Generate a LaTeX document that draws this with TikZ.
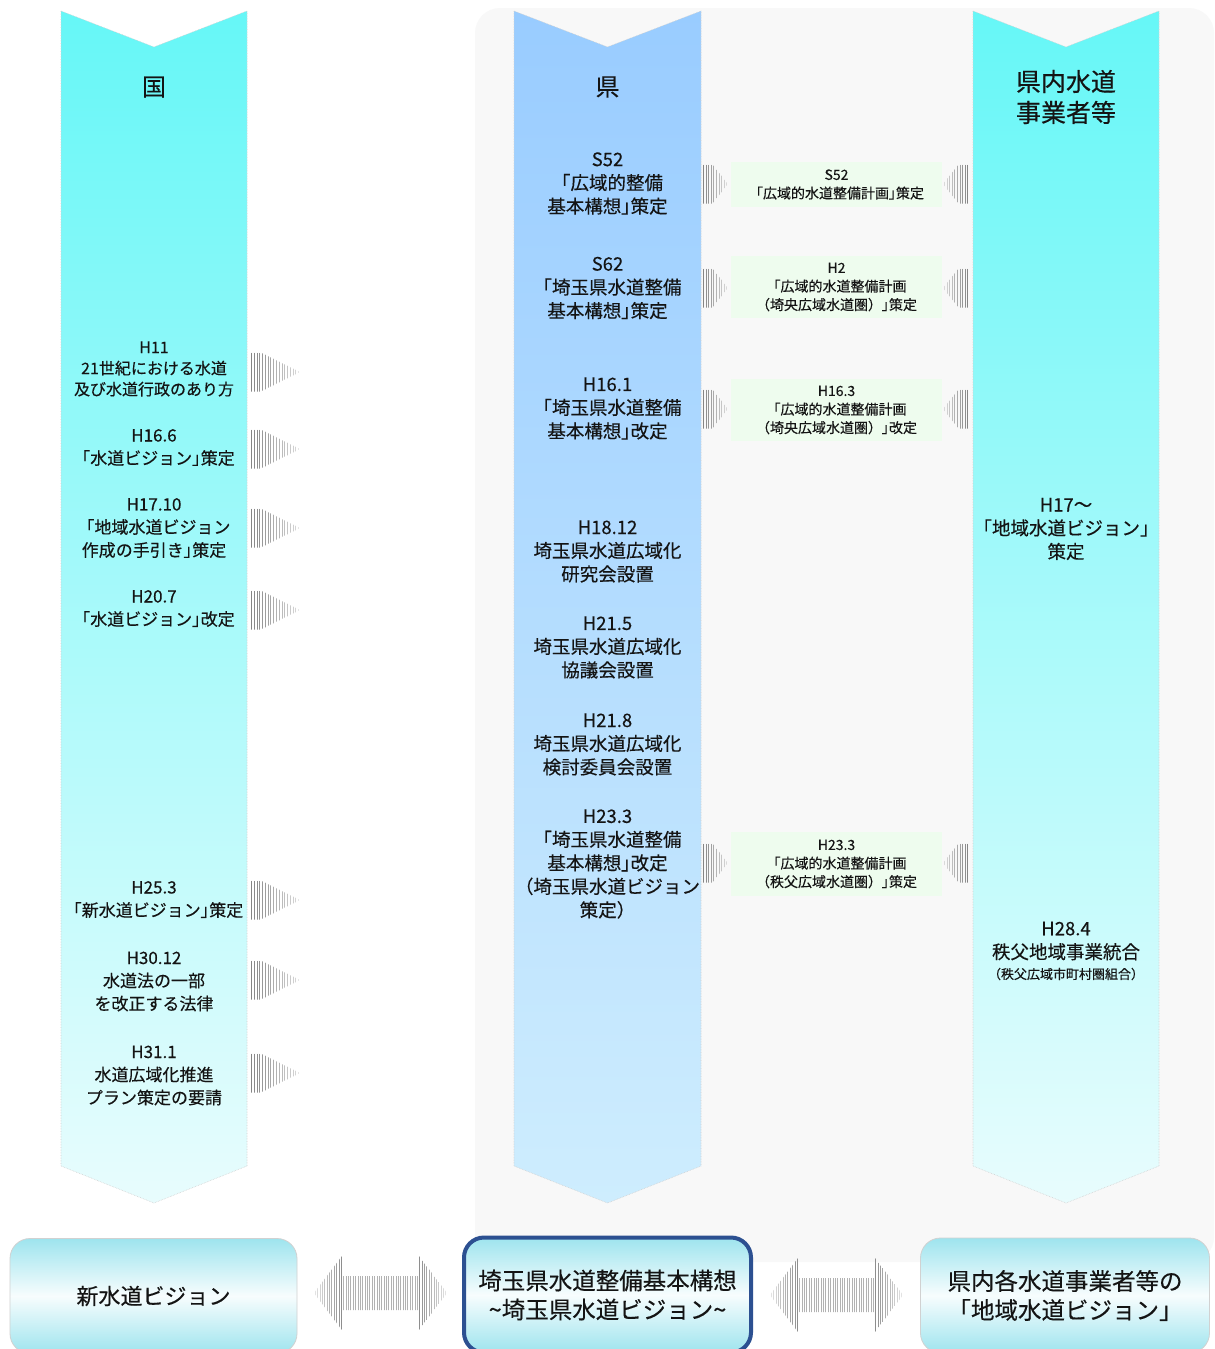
\documentclass[tikz,border=0pt]{standalone}
\usepackage{fontspec}
\setmainfont{Noto Sans CJK JP}[FakeBold=0.3]
\newcommand{\rb}{{\addfontfeatures{RawFeature=+palt}」}}
\definecolor{cyantop}{RGB}{102,247,247}
\definecolor{cyanbot}{RGB}{232,252,253}
\definecolor{bluetop}{RGB}{153,204,255}
\definecolor{bluebot}{RGB}{206,237,254}
\definecolor{panelgray}{RGB}{248,248,248}
\definecolor{greenbox}{RGB}{238,252,238}
\definecolor{boxcyan}{RGB}{158,228,238}
\definecolor{boxborder}{RGB}{44,80,145}
\definecolor{txt}{RGB}{20,20,20}

% striped single arrow: #1 back x, #2 centre y, #3 tip x, #4 half height, #5 body fraction
\newcommand{\stripearrow}[5]{%
  \begin{scope}
    \clip ({#1},{#2-#4}) -- ({#1+#5*(#3-#1)},{#2-#4}) -- ({#3},{#2})
      -- ({#1+#5*(#3-#1)},{#2+#4}) -- ({#1},{#2+#4}) -- cycle;
    \pgfmathtruncatemacro\nn{abs(#3-#1)/2.8}
    \foreach \i in {0,...,\nn}{%
      \pgfmathsetmacro\xx{#1+(\i+0.5)*(#3-#1)/(\nn+1)}
      \pgfmathsetmacro\stc{48-33*\i/\nn}
      \draw[line width=0.8pt, color=black!\stc] (\xx,{#2-#4}) -- (\xx,{#2+#4});
    }
  \end{scope}}

% striped double arrow: #1 left tip x, #2 centre y, #3 right tip x, #4 head half h, #5 shaft half h, #6 head length
\newcommand{\stripedouble}[6]{%
  \begin{scope}
    \clip ({#1},{#2}) -- ({#1+#6},{#2-#4}) -- ({#1+#6},{#2-#5}) -- ({#3-#6},{#2-#5})
      -- ({#3-#6},{#2-#4}) -- ({#3},{#2}) -- ({#3-#6},{#2+#4}) -- ({#3-#6},{#2+#5})
      -- ({#1+#6},{#2+#5}) -- ({#1+#6},{#2+#4}) -- cycle;
    \pgfmathtruncatemacro\nn{(#3-#1)/2.4}
    \foreach \i in {0,...,\nn}{%
      \pgfmathsetmacro\xx{#1+(\i+0.5)*(#3-#1)/(\nn+1)}
      \pgfmathsetmacro\dd{min(\xx-#1,#3-\xx)/#6}
      \pgfmathsetmacro\stc{(\dd<1)?(10+35*\dd):30}
      \draw[line width=0.8pt, color=black!\stc] (\xx,{#2-#4}) -- (\xx,{#2+#4});
    }
  \end{scope}}

\begin{document}
\begin{tikzpicture}[x=1pt,y=-1pt,
  every node/.style={inner sep=0pt, align=center, text=txt},
  hd/.style={font=\fontsize{24}{30}\selectfont},
  hdr/.style={font=\fontsize{25}{31}\selectfont},
  lt/.style={font=\fontsize{17}{23}\selectfont},
  lts/.style={font=\fontsize{16}{21}\selectfont},
  mt/.style={font=\fontsize{18.5}{23.5}\selectfont},
  gt/.style={font=\fontsize{14}{18.5}\selectfont},
  st/.style={font=\fontsize{13}{17}\selectfont},
  bt/.style={font=\fontsize{23.5}{29}\selectfont},
  gbox/.style={fill=greenbox, minimum width=211, minimum height=#1, gt},
  chev/.style={draw=black!18, densely dotted, line width=0.6pt},
  vbox/.style={rounded corners=20, minimum height=115, top color=boxcyan,
     bottom color=boxcyan, middle color=white!92!boxcyan, bt},
]
\useasboundingbox (0,0) rectangle (1215,1349);
\clip (0,0) rectangle (1215,1349);
\fill[white] (0,0) rectangle (1215,1349);

% background panel
\fill[panelgray, rounded corners=25] (475,8) rectangle (1214,1262);

% columns (chevron bands)
\shade[top color=cyantop, bottom color=cyanbot, chev]
  (61,11) -- (154,47) -- (247,11) -- (247,1166) -- (154,1203) -- (61,1166) -- cycle;
\shade[top color=bluetop, bottom color=bluebot, chev]
  (514,11) -- (607.5,47) -- (701,11) -- (701,1166) -- (607.5,1203) -- (514,1166) -- cycle;
\shade[top color=cyantop, bottom color=cyanbot, chev]
  (973,11) -- (1066,47) -- (1159,11) -- (1159,1166) -- (1066,1203) -- (973,1166) -- cycle;

% headings
\node[hd]  (kuni)  at (154,87)   {国};
\node[hd]  (ken)   at (607.5,87) {県};
\node[hdr] (jigyo) at (1066,97)  {県内水道\\事業者等};

% left column
\node[lts] (k1) at (154,369)   {H11\\21世紀における水道\\及び水道行政のあり方};
\node[lt]  (k2) at (154,447.5) {H16.6\\「水道ビジョン\rb 策定};
\node[lt]  (k3) at (154,528)   {H17.10\\「地域水道ビジョン\\作成の手引き\rb 策定};
\node[lt]  (k4) at (154,608.5) {H20.7\\「水道ビジョン\rb 改定};
\node[lt]  (k5) at (154,899.5) {H25.3\\「新水道ビジョン\rb 策定};
\node[lt]  (k6) at (154,981.5) {H30.12\\水道法の一部\\を改正する法律};
\node[lt]  (k7) at (154,1075.5){H31.1\\水道広域化推進\\プラン策定の要請};

% middle column
\node[mt] (m1) at (607.5,183.5) {S52\\「広域的整備\\基本構想\rb 策定};
\node[mt] (m2) at (607.5,288)   {S62\\「埼玉県水道整備\\基本構想\rb 策定};
\node[mt] (m3) at (607.5,408.5) {H16.1\\「埼玉県水道整備\\基本構想\rb 改定};
\node[mt] (m4) at (607.5,551.5) {H18.12\\埼玉県水道広域化\\研究会設置};
\node[mt] (m5) at (607.5,647.5) {H21.5\\埼玉県水道広域化\\協議会設置};
\node[mt] (m6) at (607.5,744.5) {H21.8\\埼玉県水道広域化\\検討委員会設置};
\node[mt] (m7) at (607.5,864)   {H23.3\\「埼玉県水道整備\\基本構想\rb 改定\\（埼玉県水道ビジョン\\策定）};

% green boxes
\node[gbox=45] (g1) at (836.5,184.5) {S52\\「広域的水道整備計画\rb 策定};
\node[gbox=62] (g2) at (836.5,287)   {H2\\「広域的水道整備計画\\（埼央広域水道圏）\rb 策定};
\node[gbox=62] (g3) at (836.5,410)   {H16.3\\「広域的水道整備計画\\（埼央広域水道圏）\rb 改定};
\node[gbox=64] (g4) at (836.5,864)   {H23.3\\「広域的水道整備計画\\（秩父広域水道圏）\rb 策定};

% right column
\node[mt] (r1) at (1066,529) {H17～\\「地域水道ビジョン」\\策定};
\node[mt] (r2) at (1066,941) {H28.4\\秩父地域事業統合};
\node[st] (r3) at (1066,974) {（秩父広域市町村圏組合）};

% striped arrows, left column -> right
\foreach \yy in {372,449,528,610,900,980,1073}
  {\stripearrow{250}{\yy}{300}{19.5}{0.22}}
% middle column -> green boxes
\foreach \yy in {184,288,409,863}
  {\stripearrow{702}{\yy}{728}{19.5}{0.4}}
% right column -> green boxes
\foreach \yy in {184,288,409,863}
  {\stripearrow{969}{\yy}{943}{19.5}{0.4}}

% bottom boxes
\node[vbox, minimum width=287, draw=black!18, line width=0.8pt, font=\fontsize{22}{28}\selectfont]
   (b1) at (153.5,1296) {新水道ビジョン};
\node[vbox, minimum width=287, draw=boxborder, line width=4pt]
   (b2) at (607.5,1295) {埼玉県水道整備基本構想\\\textasciitilde 埼玉県水道ビジョン\textasciitilde};
\node[vbox, minimum width=289, draw=black!18, line width=0.8pt]
   (b3) at (1065,1295.5) {県内各水道事業者等の\\「地域水道ビジョン」};

% double striped arrows
\stripedouble{314}{1293}{447}{37}{17}{28}
\stripedouble{770}{1295}{903}{37}{17}{28}
\end{tikzpicture}
\end{document}
